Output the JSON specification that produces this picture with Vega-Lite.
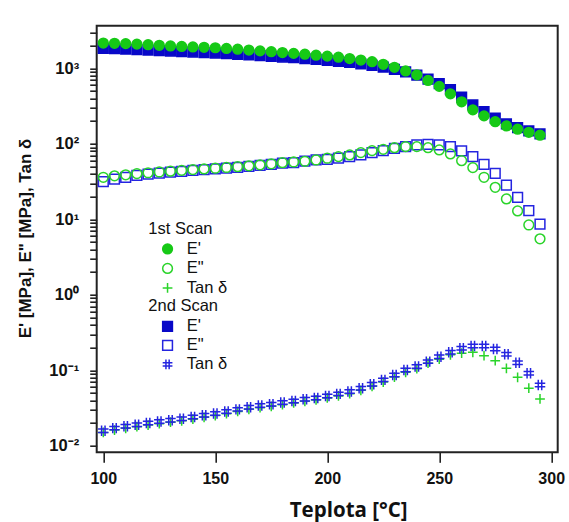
{
  "$schema": "https://vega.github.io/schema/vega-lite/v6.json",
  "autosize": {"type": "none"},
  "width": 461,
  "height": 426.6,
  "padding": {"left": 96.7, "top": 25.7, "right": 11.3, "bottom": 69.7},
  "background": "white",
  "config": {
    "view": {"stroke": "#222", "strokeWidth": 2},
    "font": "Liberation Sans",
    "axis": {"ticks": true, "tickColor": "#222", "tickWidth": 1.6, "tickOpacity": 1, "domain": false, "grid": false}
  },
  "data": {"values": [
    {"T":100,"scan":"1st","series":"E'","v":2160},{"T":105,"scan":"1st","series":"E'","v":2140},{"T":110,"scan":"1st","series":"E'","v":2120},{"T":115,"scan":"1st","series":"E'","v":2090},{"T":120,"scan":"1st","series":"E'","v":2055},{"T":125,"scan":"1st","series":"E'","v":2015},{"T":130,"scan":"1st","series":"E'","v":1976},{"T":135,"scan":"1st","series":"E'","v":1945},{"T":140,"scan":"1st","series":"E'","v":1917},{"T":145,"scan":"1st","series":"E'","v":1898},
    {"T":150,"scan":"1st","series":"E'","v":1870},{"T":155,"scan":"1st","series":"E'","v":1830},{"T":160,"scan":"1st","series":"E'","v":1787},{"T":165,"scan":"1st","series":"E'","v":1745},{"T":170,"scan":"1st","series":"E'","v":1700},{"T":175,"scan":"1st","series":"E'","v":1660},{"T":180,"scan":"1st","series":"E'","v":1617},{"T":185,"scan":"1st","series":"E'","v":1575},{"T":190,"scan":"1st","series":"E'","v":1537},{"T":195,"scan":"1st","series":"E'","v":1490},
    {"T":200,"scan":"1st","series":"E'","v":1448},{"T":205,"scan":"1st","series":"E'","v":1400},{"T":210,"scan":"1st","series":"E'","v":1345},{"T":215,"scan":"1st","series":"E'","v":1284},{"T":220,"scan":"1st","series":"E'","v":1222},{"T":225,"scan":"1st","series":"E'","v":1128},{"T":230,"scan":"1st","series":"E'","v":1031},{"T":235,"scan":"1st","series":"E'","v":923},{"T":240,"scan":"1st","series":"E'","v":818},{"T":245,"scan":"1st","series":"E'","v":690},
    {"T":250,"scan":"1st","series":"E'","v":576},{"T":255,"scan":"1st","series":"E'","v":458},{"T":260,"scan":"1st","series":"E'","v":360},{"T":265,"scan":"1st","series":"E'","v":281},{"T":270,"scan":"1st","series":"E'","v":234},{"T":275,"scan":"1st","series":"E'","v":196},{"T":280,"scan":"1st","series":"E'","v":172},{"T":285,"scan":"1st","series":"E'","v":156},{"T":290,"scan":"1st","series":"E'","v":142},{"T":295,"scan":"1st","series":"E'","v":130},

    {"T":100,"scan":"2nd","series":"E'","v":1840},{"T":105,"scan":"2nd","series":"E'","v":1815},{"T":110,"scan":"2nd","series":"E'","v":1790},{"T":115,"scan":"2nd","series":"E'","v":1765},{"T":120,"scan":"2nd","series":"E'","v":1740},{"T":125,"scan":"2nd","series":"E'","v":1715},{"T":130,"scan":"2nd","series":"E'","v":1690},{"T":135,"scan":"2nd","series":"E'","v":1665},{"T":140,"scan":"2nd","series":"E'","v":1640},{"T":145,"scan":"2nd","series":"E'","v":1615},
    {"T":150,"scan":"2nd","series":"E'","v":1590},{"T":155,"scan":"2nd","series":"E'","v":1560},{"T":160,"scan":"2nd","series":"E'","v":1530},{"T":165,"scan":"2nd","series":"E'","v":1500},{"T":170,"scan":"2nd","series":"E'","v":1470},{"T":175,"scan":"2nd","series":"E'","v":1440},{"T":180,"scan":"2nd","series":"E'","v":1410},{"T":185,"scan":"2nd","series":"E'","v":1380},{"T":190,"scan":"2nd","series":"E'","v":1345},{"T":195,"scan":"2nd","series":"E'","v":1310},
    {"T":200,"scan":"2nd","series":"E'","v":1275},{"T":205,"scan":"2nd","series":"E'","v":1235},{"T":210,"scan":"2nd","series":"E'","v":1195},{"T":215,"scan":"2nd","series":"E'","v":1145},{"T":220,"scan":"2nd","series":"E'","v":1095},{"T":225,"scan":"2nd","series":"E'","v":1035},{"T":230,"scan":"2nd","series":"E'","v":970},{"T":235,"scan":"2nd","series":"E'","v":895},{"T":240,"scan":"2nd","series":"E'","v":810},{"T":245,"scan":"2nd","series":"E'","v":720},
    {"T":250,"scan":"2nd","series":"E'","v":625},{"T":255,"scan":"2nd","series":"E'","v":520},{"T":260,"scan":"2nd","series":"E'","v":415},{"T":265,"scan":"2nd","series":"E'","v":327},{"T":270,"scan":"2nd","series":"E'","v":266},{"T":275,"scan":"2nd","series":"E'","v":218},{"T":280,"scan":"2nd","series":"E'","v":183},{"T":285,"scan":"2nd","series":"E'","v":163},{"T":290,"scan":"2nd","series":"E'","v":148},{"T":295,"scan":"2nd","series":"E'","v":135},

    {"T":100,"scan":"1st","series":"E\"","v":36.0},{"T":105,"scan":"1st","series":"E\"","v":37.6},{"T":110,"scan":"1st","series":"E\"","v":38.8},{"T":115,"scan":"1st","series":"E\"","v":40.2},{"T":120,"scan":"1st","series":"E\"","v":41.3},{"T":125,"scan":"1st","series":"E\"","v":42.3},{"T":130,"scan":"1st","series":"E\"","v":43.3},{"T":135,"scan":"1st","series":"E\"","v":44.4},{"T":140,"scan":"1st","series":"E\"","v":45.4},{"T":145,"scan":"1st","series":"E\"","v":46.4},
    {"T":150,"scan":"1st","series":"E\"","v":47.4},{"T":155,"scan":"1st","series":"E\"","v":48.5},{"T":160,"scan":"1st","series":"E\"","v":49.7},{"T":165,"scan":"1st","series":"E\"","v":51.0},{"T":170,"scan":"1st","series":"E\"","v":52.6},{"T":175,"scan":"1st","series":"E\"","v":54.3},{"T":180,"scan":"1st","series":"E\"","v":56.2},{"T":185,"scan":"1st","series":"E\"","v":57.4},{"T":190,"scan":"1st","series":"E\"","v":58.6},{"T":195,"scan":"1st","series":"E\"","v":61.0},
    {"T":200,"scan":"1st","series":"E\"","v":64.3},{"T":205,"scan":"1st","series":"E\"","v":67.5},{"T":210,"scan":"1st","series":"E\"","v":71.1},{"T":215,"scan":"1st","series":"E\"","v":76.3},{"T":220,"scan":"1st","series":"E\"","v":81.1},{"T":225,"scan":"1st","series":"E\"","v":84.5},{"T":230,"scan":"1st","series":"E\"","v":88.8},{"T":235,"scan":"1st","series":"E\"","v":91.6},{"T":240,"scan":"1st","series":"E\"","v":91.6},{"T":245,"scan":"1st","series":"E\"","v":88.8},
    {"T":250,"scan":"1st","series":"E\"","v":82.8},{"T":255,"scan":"1st","series":"E\"","v":73.3},{"T":260,"scan":"1st","series":"E\"","v":59.7},{"T":265,"scan":"1st","series":"E\"","v":48.3},{"T":270,"scan":"1st","series":"E\"","v":36.0},{"T":275,"scan":"1st","series":"E\"","v":26.5},{"T":280,"scan":"1st","series":"E\"","v":18.6},{"T":285,"scan":"1st","series":"E\"","v":12.9},{"T":290,"scan":"1st","series":"E\"","v":8.4},{"T":295,"scan":"1st","series":"E\"","v":5.5},

    {"T":100,"scan":"2nd","series":"E\"","v":31.5},{"T":105,"scan":"2nd","series":"E\"","v":33.9},{"T":110,"scan":"2nd","series":"E\"","v":36.0},{"T":115,"scan":"2nd","series":"E\"","v":38.0},{"T":120,"scan":"2nd","series":"E\"","v":39.5},{"T":125,"scan":"2nd","series":"E\"","v":40.8},{"T":130,"scan":"2nd","series":"E\"","v":42.0},{"T":135,"scan":"2nd","series":"E\"","v":43.2},{"T":140,"scan":"2nd","series":"E\"","v":44.3},{"T":145,"scan":"2nd","series":"E\"","v":45.4},
    {"T":150,"scan":"2nd","series":"E\"","v":46.5},{"T":155,"scan":"2nd","series":"E\"","v":47.6},{"T":160,"scan":"2nd","series":"E\"","v":48.8},{"T":165,"scan":"2nd","series":"E\"","v":50.2},{"T":170,"scan":"2nd","series":"E\"","v":51.7},{"T":175,"scan":"2nd","series":"E\"","v":53.4},{"T":180,"scan":"2nd","series":"E\"","v":55.2},{"T":185,"scan":"2nd","series":"E\"","v":56.2},{"T":190,"scan":"2nd","series":"E\"","v":59.1},{"T":195,"scan":"2nd","series":"E\"","v":61.0},
    {"T":200,"scan":"2nd","series":"E\"","v":62.2},{"T":205,"scan":"2nd","series":"E\"","v":64.3},{"T":210,"scan":"2nd","series":"E\"","v":67.5},{"T":215,"scan":"2nd","series":"E\"","v":71.1},{"T":220,"scan":"2nd","series":"E\"","v":76.3},{"T":225,"scan":"2nd","series":"E\"","v":81.1},{"T":230,"scan":"2nd","series":"E\"","v":87.1},{"T":235,"scan":"2nd","series":"E\"","v":91.6},{"T":240,"scan":"2nd","series":"E\"","v":96.4},{"T":245,"scan":"2nd","series":"E\"","v":98.4},
    {"T":250,"scan":"2nd","series":"E\"","v":96.4},{"T":255,"scan":"2nd","series":"E\"","v":91.6},{"T":260,"scan":"2nd","series":"E\"","v":80.4},{"T":265,"scan":"2nd","series":"E\"","v":67.5},{"T":270,"scan":"2nd","series":"E\"","v":53.5},{"T":275,"scan":"2nd","series":"E\"","v":40.6},{"T":280,"scan":"2nd","series":"E\"","v":28.4},{"T":285,"scan":"2nd","series":"E\"","v":19.5},{"T":290,"scan":"2nd","series":"E\"","v":13.0},{"T":295,"scan":"2nd","series":"E\"","v":8.6},

    {"T":100,"scan":"1st","series":"Tan δ","v":0.0150},{"T":105,"scan":"1st","series":"Tan δ","v":0.0161},{"T":110,"scan":"1st","series":"Tan δ","v":0.0170},{"T":115,"scan":"1st","series":"Tan δ","v":0.0179},{"T":120,"scan":"1st","series":"Tan δ","v":0.0188},{"T":125,"scan":"1st","series":"Tan δ","v":0.0196},{"T":130,"scan":"1st","series":"Tan δ","v":0.0205},{"T":135,"scan":"1st","series":"Tan δ","v":0.0214},{"T":140,"scan":"1st","series":"Tan δ","v":0.0225},{"T":145,"scan":"1st","series":"Tan δ","v":0.0238},
    {"T":150,"scan":"1st","series":"Tan δ","v":0.0251},{"T":155,"scan":"1st","series":"Tan δ","v":0.0266},{"T":160,"scan":"1st","series":"Tan δ","v":0.0284},{"T":165,"scan":"1st","series":"Tan δ","v":0.0304},{"T":170,"scan":"1st","series":"Tan δ","v":0.0319},{"T":175,"scan":"1st","series":"Tan δ","v":0.0333},{"T":180,"scan":"1st","series":"Tan δ","v":0.0350},{"T":185,"scan":"1st","series":"Tan δ","v":0.0368},{"T":190,"scan":"1st","series":"Tan δ","v":0.0388},{"T":195,"scan":"1st","series":"Tan δ","v":0.0404},
    {"T":200,"scan":"1st","series":"Tan δ","v":0.0429},{"T":205,"scan":"1st","series":"Tan δ","v":0.0456},{"T":210,"scan":"1st","series":"Tan δ","v":0.0489},{"T":215,"scan":"1st","series":"Tan δ","v":0.0542},{"T":220,"scan":"1st","series":"Tan δ","v":0.0613},{"T":225,"scan":"1st","series":"Tan δ","v":0.0698},{"T":230,"scan":"1st","series":"Tan δ","v":0.0812},{"T":235,"scan":"1st","series":"Tan δ","v":0.0940},{"T":240,"scan":"1st","series":"Tan δ","v":0.105},{"T":245,"scan":"1st","series":"Tan δ","v":0.124},
    {"T":250,"scan":"1st","series":"Tan δ","v":0.140},{"T":255,"scan":"1st","series":"Tan δ","v":0.160},{"T":260,"scan":"1st","series":"Tan δ","v":0.168},{"T":265,"scan":"1st","series":"Tan δ","v":0.173},{"T":270,"scan":"1st","series":"Tan δ","v":0.156},{"T":275,"scan":"1st","series":"Tan δ","v":0.134},{"T":280,"scan":"1st","series":"Tan δ","v":0.106},{"T":285,"scan":"1st","series":"Tan δ","v":0.0807},{"T":290,"scan":"1st","series":"Tan δ","v":0.0578},{"T":295,"scan":"1st","series":"Tan δ","v":0.0417},

    {"T":100,"scan":"2nd","series":"Tan δ","v":0.0158},{"T":105,"scan":"2nd","series":"Tan δ","v":0.0171},{"T":110,"scan":"2nd","series":"Tan δ","v":0.0181},{"T":115,"scan":"2nd","series":"Tan δ","v":0.0190},{"T":120,"scan":"2nd","series":"Tan δ","v":0.0200},{"T":125,"scan":"2nd","series":"Tan δ","v":0.0209},{"T":130,"scan":"2nd","series":"Tan δ","v":0.0218},{"T":135,"scan":"2nd","series":"Tan δ","v":0.0228},{"T":140,"scan":"2nd","series":"Tan δ","v":0.0240},{"T":145,"scan":"2nd","series":"Tan δ","v":0.0254},
    {"T":150,"scan":"2nd","series":"Tan δ","v":0.0268},{"T":155,"scan":"2nd","series":"Tan δ","v":0.0284},{"T":160,"scan":"2nd","series":"Tan δ","v":0.0303},{"T":165,"scan":"2nd","series":"Tan δ","v":0.0324},{"T":170,"scan":"2nd","series":"Tan δ","v":0.0340},{"T":175,"scan":"2nd","series":"Tan δ","v":0.0355},{"T":180,"scan":"2nd","series":"Tan δ","v":0.0373},{"T":185,"scan":"2nd","series":"Tan δ","v":0.0392},{"T":190,"scan":"2nd","series":"Tan δ","v":0.0413},{"T":195,"scan":"2nd","series":"Tan δ","v":0.0430},
    {"T":200,"scan":"2nd","series":"Tan δ","v":0.0457},{"T":205,"scan":"2nd","series":"Tan δ","v":0.0486},{"T":210,"scan":"2nd","series":"Tan δ","v":0.0521},{"T":215,"scan":"2nd","series":"Tan δ","v":0.0578},{"T":220,"scan":"2nd","series":"Tan δ","v":0.0653},{"T":225,"scan":"2nd","series":"Tan δ","v":0.0745},{"T":230,"scan":"2nd","series":"Tan δ","v":0.0867},{"T":235,"scan":"2nd","series":"Tan δ","v":0.101},{"T":240,"scan":"2nd","series":"Tan δ","v":0.112},{"T":245,"scan":"2nd","series":"Tan δ","v":0.130},
    {"T":250,"scan":"2nd","series":"Tan δ","v":0.151},{"T":255,"scan":"2nd","series":"Tan δ","v":0.173},{"T":260,"scan":"2nd","series":"Tan δ","v":0.195},{"T":265,"scan":"2nd","series":"Tan δ","v":0.210},{"T":270,"scan":"2nd","series":"Tan δ","v":0.210},{"T":275,"scan":"2nd","series":"Tan δ","v":0.191},{"T":280,"scan":"2nd","series":"Tan δ","v":0.163},{"T":285,"scan":"2nd","series":"Tan δ","v":0.126},{"T":290,"scan":"2nd","series":"Tan δ","v":0.0912},{"T":295,"scan":"2nd","series":"Tan δ","v":0.0638}
  ]},
  "resolve": {
    "scale": {"shape": "independent", "fill": "independent", "stroke": "independent"}
  },
  "layer": [
    {
      "transform": [{"filter": "datum.scan == '2nd' && datum.series != 'Tan δ'"}],
      "mark": {"type": "point", "size": 95, "strokeWidth": 1.5, "opacity": 1},
      "encoding": {
        "x": {"field": "T", "type": "quantitative",
          "scale": {"domain": [97.05, 302.9], "nice": false, "zero": false},
          "axis": {"orient": "bottom", "values": [100, 150, 200, 250, 300], "tickSize": 10,
            "labelFont": "Liberation Sans", "labelFontWeight": "bold", "labelFontSize": 16, "labelColor": "#111", "labelPadding": 8,
            "title": "Teplota [°C]", "titleFont": "Open Sans", "titleFontWeight": "bold", "titleFontSize": 20.5, "titleColor": "#111",
            "titleX": 251.5, "titleY": 64.4, "titleAlign": "center", "titleBaseline": "alphabetic"}},
        "y": {"field": "v", "type": "quantitative",
          "scale": {"type": "log", "domain": [0.00818, 3664], "nice": false},
          "axis": {"orient": "left", "values": [0.01,0.02,0.03,0.04,0.05,0.06,0.07,0.08,0.09,0.1,0.2,0.3,0.4,0.5,0.6,0.7,0.8,0.9,1,2,3,4,5,6,7,8,9,10,20,30,40,50,60,70,80,90,100,200,300,400,500,600,700,800,900,1000,2000,3000],
            "tickSize": 7,
            "labelExpr": "datum.value == 0.01 ? '10⁻²' : datum.value == 0.1 ? '10⁻¹' : datum.value == 1 ? '10⁰' : datum.value == 10 ? '10¹' : datum.value == 100 ? '10²' : datum.value == 1000 ? '10³' : ''",
            "labelOverlap": false,
            "labelFont": "Liberation Sans", "labelFontWeight": "bold", "labelFontSize": 16.5, "labelColor": "#111", "labelPadding": 11,
            "title": "E' [MPa], E\" [MPa], Tan δ", "titleFont": "Liberation Sans", "titleFontWeight": "bold", "titleFontSize": 17, "titleColor": "#111",
            "titleX": -71.7, "titleY": 212.3, "titleAngle": -90, "titleAlign": "center", "titleBaseline": "middle"}},
        "shape": {"field": "series", "type": "nominal", "scale": {"domain": ["E'", "E\""], "range": ["square", "square"]}, "legend": null},
        "fill": {"field": "series", "type": "nominal", "scale": {"domain": ["E'", "E\""], "range": ["#0808c8", "transparent"]}, "legend": null},
        "stroke": {"field": "series", "type": "nominal", "scale": {"domain": ["E'", "E\""], "range": ["#0808c8", "#2424e0"]}, "legend": null}
      }
    },
    {
      "transform": [{"filter": "datum.scan == '1st'"}],
      "mark": {"type": "point", "size": 95, "strokeWidth": 1.5, "opacity": 1},
      "encoding": {
        "x": {"field": "T", "type": "quantitative"},
        "y": {"field": "v", "type": "quantitative"},
        "shape": {"field": "series", "type": "nominal",
          "scale": {"domain": ["E'", "E\"", "Tan δ"], "range": ["circle", "circle", "M-1,0H1M0,-1V1"]},
          "legend": {"title": "1st Scan", "orient": "none", "legendX": 51.6, "legendY": 195, "padding": 0,
            "titleFont": "Liberation Sans", "titleFontWeight": "normal", "titleFontSize": 16.5, "titleColor": "#111", "titlePadding": 3.5,
            "labelFont": "Liberation Sans", "labelFontSize": 16.5, "labelColor": "#111", "labelOffset": 11,
            "symbolOffset": 11, "symbolSize": 95, "symbolStrokeWidth": 1.5, "rowPadding": 2.5}},
        "fill": {"field": "series", "type": "nominal",
          "scale": {"domain": ["E'", "E\"", "Tan δ"], "range": ["#16c916", "transparent", "transparent"]},
          "legend": {"title": "1st Scan"}},
        "stroke": {"field": "series", "type": "nominal",
          "scale": {"domain": ["E'", "E\"", "Tan δ"], "range": ["#16c916", "#2ad42a", "#2ad42a"]},
          "legend": {"title": "1st Scan"}}
      }
    },
    {
      "transform": [{"filter": "datum.scan == '2nd' && datum.series == 'Tan δ'"}],
      "mark": {"type": "point", "size": 110, "strokeWidth": 1.5, "opacity": 1},
      "encoding": {
        "x": {"field": "T", "type": "quantitative"},
        "y": {"field": "v", "type": "quantitative"},
        "shape": {"field": "series", "type": "nominal",
          "scale": {"domain": ["E'", "E\"", "Tan δ"], "range": ["square", "square", "M-1,-0.33H1M-1,0.33H1M-0.33,-1V1M0.33,-1V1"]},
          "legend": {"title": "2nd Scan", "orient": "none", "legendX": 51.6, "legendY": 272.5, "padding": 0,
            "titleFont": "Liberation Sans", "titleFontWeight": "normal", "titleFontSize": 16.5, "titleColor": "#111", "titlePadding": 3.5,
            "labelFont": "Liberation Sans", "labelFontSize": 16.5, "labelColor": "#111", "labelOffset": 11,
            "symbolOffset": 11, "symbolSize": 95, "symbolStrokeWidth": 1.5, "rowPadding": 2}},
        "fill": {"field": "series", "type": "nominal",
          "scale": {"domain": ["E'", "E\"", "Tan δ"], "range": ["#0808c8", "transparent", "transparent"]},
          "legend": {"title": "2nd Scan"}},
        "stroke": {"field": "series", "type": "nominal",
          "scale": {"domain": ["E'", "E\"", "Tan δ"], "range": ["#0808c8", "#2424e0", "#2424e0"]},
          "legend": {"title": "2nd Scan"}}
      }
    }
  ]
}
